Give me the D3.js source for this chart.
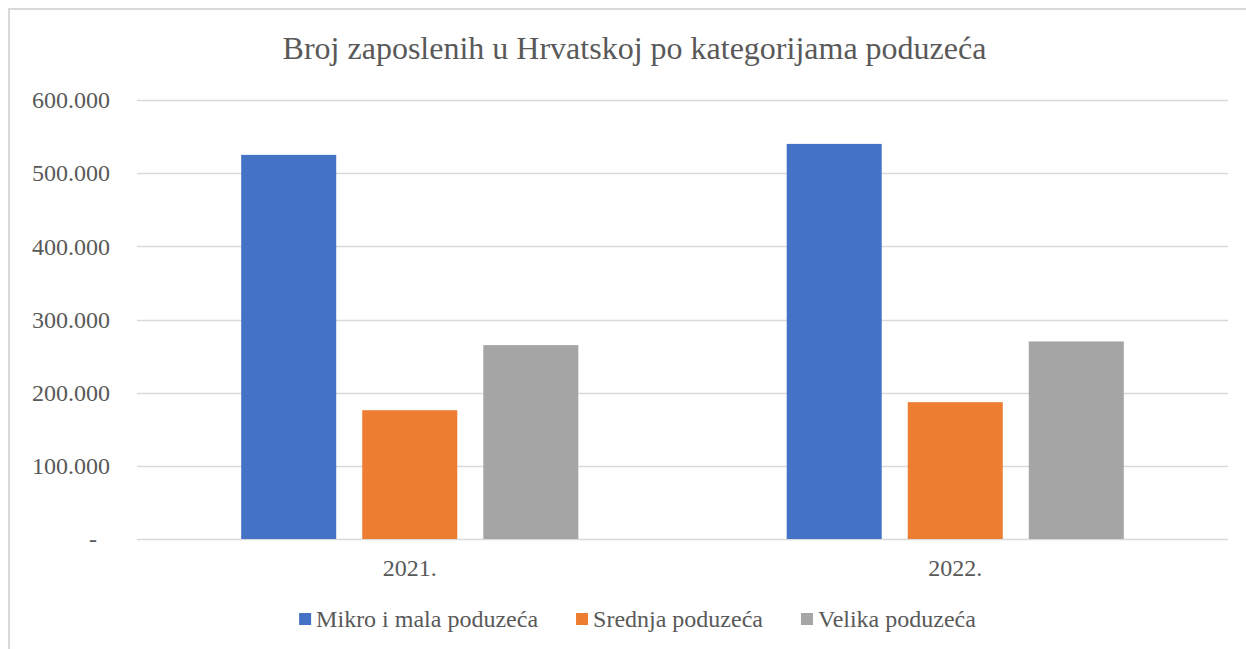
<!DOCTYPE html>
<html>
<head>
<meta charset="utf-8">
<script src="https://cdn.jsdelivr.net/npm/d3@7"></script>
<style>
  body { margin: 0; background: #fff; }
  svg text { font-family: "Liberation Serif", "Times New Roman", serif !important; fill: #595959; }
</style>
</head>
<body>
<svg id="chart" width="1246" height="649"></svg>
<script>
const title = "Broj zaposlenih u Hrvatskoj po kategorijama poduzeća";
const years = ["2021.", "2022."];
const seriesNames = ["Mikro i mala poduzeća", "Srednja poduzeća", "Velika poduzeća"];
const seriesColors = ["#4472C4", "#ED7D31", "#A5A5A5"];
const mikroMala = [525000, 540000];
const srednja = [176000, 187000];
const velika = [265000, 270000];
const yTicks = [0, 100000, 200000, 300000, 400000, 500000, 600000];

const values = [mikroMala, srednja, velika];
const serif = '"Liberation Serif", "Times New Roman", serif';

const plot = {left: 137, right: 1228, top: 100, bottom: 539};

const svg = d3.select('#chart');

// chart frame
svg.append('rect')
  .attr('x', 9).attr('y', 9)
  .attr('width', 1270).attr('height', 670)
  .attr('fill', 'none')
  .attr('stroke', '#d9d9d9')
  .attr('stroke-width', 2);

const hr = d3.formatLocale({decimal: ",", thousands: ".", grouping: [3], currency: ["", ""]});
const fmt = hr.format(",d");

const y = d3.scaleLinear().domain([0, 600000]).range([plot.bottom, plot.top]);
const x0 = d3.scaleBand().domain(years).range([plot.left, plot.right])
  .paddingInner(0.382).paddingOuter(0.191);
const x1 = d3.scaleBand().domain(seriesNames).range([0, x0.bandwidth()])
  .paddingInner(0.215).paddingOuter(0);

// gridlines
svg.append('g').selectAll('line')
  .data(yTicks).enter()
  .append('line')
  .attr('x1', plot.left).attr('x2', plot.right)
  .attr('y1', d => Math.round(y(d)) + 0.5)
  .attr('y2', d => Math.round(y(d)) + 0.5)
  .attr('stroke', '#d9d9d9')
  .attr('stroke-width', 1.5);

// y axis labels
const yAxis = d3.axisLeft(y).tickValues(yTicks).tickSize(0).tickPadding(0)
  .tickFormat(d => d === 0 ? "-" : fmt(d));
const yg = svg.append('g').attr('transform', 'translate(110,0)').call(yAxis)
  .attr('font-family', serif);
yg.select('.domain').remove();
yg.selectAll('text')
  .attr('font-size', 24)
  .style('font-family', serif)
  .attr('fill', null)
  .attr('dx', d => d === 0 ? -13 : 0);

// bars
const groups = svg.append('g').selectAll('g')
  .data(years).enter()
  .append('g')
  .attr('transform', d => 'translate(' + x0(d) + ',0)');

groups.selectAll('rect')
  .data((d, i) => seriesNames.map((s, j) => ({name: s, value: values[j][i], color: seriesColors[j]})))
  .enter().append('rect')
  .attr('x', d => x1(d.name))
  .attr('width', x1.bandwidth())
  .attr('y', d => y(d.value))
  .attr('height', d => y(0) - y(d.value))
  .attr('fill', d => d.color);

// x axis labels
const xAxis = d3.axisBottom(x0).tickSize(0).tickPadding(0);
const xg = svg.append('g').attr('transform', 'translate(0,' + (plot.bottom + 20) + ')').call(xAxis)
  .attr('font-family', serif);
xg.select('.domain').remove();
xg.selectAll('text')
  .attr('font-size', 24)
  .style('font-family', serif)
  .attr('fill', null)
  .attr('dy', '0.71em');

// title
svg.append('text')
  .attr('x', 634.5).attr('y', 59)
  .attr('text-anchor', 'middle')
  .attr('font-size', 32)
  .style('font-family', serif)
  .text(title);

// legend
const legend = svg.append('g');
let lx = 0;
seriesNames.forEach((s, i) => {
  const item = legend.append('g').attr('transform', 'translate(' + lx + ',0)');
  item.append('rect')
    .attr('x', 0).attr('y', 613)
    .attr('width', 12).attr('height', 12)
    .attr('fill', seriesColors[i]);
  const t = item.append('text')
    .attr('x', 17).attr('y', 627)
    .attr('font-size', 24)
    .style('font-family', serif)
    .text(s);
  lx += 17 + t.node().getComputedTextLength() + 38;
});
const legendWidth = lx - 38;
legend.attr('transform', 'translate(' + (637.5 - legendWidth / 2) + ',0)');
</script>
</body>
</html>
